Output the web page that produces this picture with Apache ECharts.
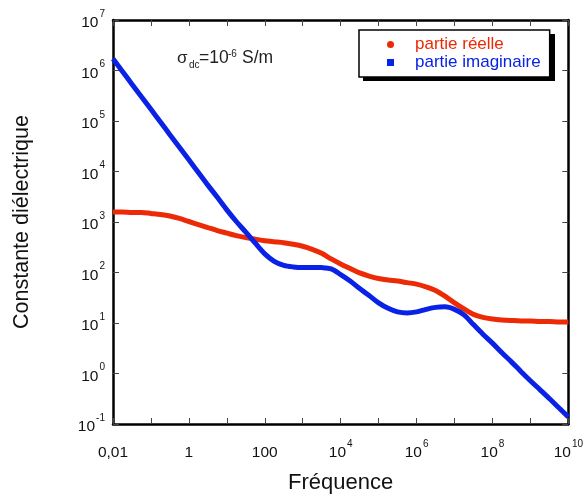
<!DOCTYPE html>
<html>
<head>
<meta charset="utf-8">
<script src="https://cdn.jsdelivr.net/npm/echarts@6/dist/echarts.min.js"></script>
<style>
html,body{margin:0;padding:0;background:#fff;}
#chart{width:586px;height:499px;}
</style>
</head>
<body>
<div id="chart"></div>
<script>
const frequence = [
  0.01, 0.0178, 0.0316, 0.0562,
  0.1, 0.178, 0.316, 0.562,
  1, 1.78, 3.16, 5.62,
  10, 17.8, 31.6, 56.2,
  100, 178, 316, 562,
  1e3, 1.78e3, 3.16e3, 5.62e3,
  1e4, 1.78e4, 3.16e4, 5.62e4,
  1e5, 1.78e5, 3.16e5, 5.62e5,
  1e6, 1.78e6, 3.16e6, 5.62e6,
  1e7, 1.78e7, 3.16e7, 5.62e7,
  1e8, 1.78e8, 3.16e8, 5.62e8,
  1e9, 1.78e9, 3.16e9, 5.62e9,
  1e10
];
const partieReelle = [
  1585, 1585, 1549, 1549,
  1479, 1413, 1318, 1175,
  1023, 891, 776, 676,
  603, 537, 490, 457,
  427, 407, 389, 363,
  331, 288, 240, 186,
  148, 120, 98, 85,
  76, 71, 68, 63,
  59, 52, 44, 34,
  25, 19, 14.8, 12.9,
  12.0, 11.5, 11.2, 11.0,
  11.0, 10.7, 10.7, 10.5,
  10.5
];
const partieImaginaire = [
  1.70e6, 9.55e5, 5.37e5, 3.02e5,
  1.70e5, 9.55e4, 5.37e4, 3.02e4,
  1.70e4, 9550, 5370, 3090,
  1740, 1023, 631, 380,
  234, 166, 138, 129,
  126, 126, 125, 118,
  91, 68, 48, 35,
  25, 19.5, 16.6, 15.8,
  16.6, 18.6, 20.4, 20.9,
  18.6, 14.5, 9.3, 6.0,
  4.0, 2.57, 1.70, 1.10,
  0.72, 0.48, 0.32, 0.21,
  0.138
];
const seriesNames = ['partie réelle', 'partie imaginaire'];
const seriesColors = ['#ec2a06', '#0a22e6'];

const FONT = 'Liberation Sans, Arial, sans-serif';
const chart = echarts.init(document.getElementById('chart'));

function expOf(v){ return Math.round(Math.log10(v)); }
function xLabel(v){
  const e = expOf(v);
  if (e % 2 !== 0) return '';
  if (e === -2) return '{b|0,01}';
  if (e === 0) return '{b|1}';
  if (e === 2) return '{b|100}';
  return '{b|10}{s|' + e + '}';
}
function yLabel(v){
  return '{b|10}{s|' + expOf(v) + '}';
}
const labelRich = {
  b: {fontSize: 15.5, fontFamily: FONT, color: '#111', lineHeight: 22, verticalAlign: 'bottom'},
  s: {fontSize: 10, fontFamily: FONT, color: '#111', lineHeight: 13, verticalAlign: 'top', padding: [0, 0, 0, 1]}
};
const tickStyle = {show: true, inside: true, length: 6, lineStyle: {color: '#444', width: 1}};
const lineStyleAxis = {show: true, lineStyle: {color: '#000', width: 2.5}};

const option = {
  backgroundColor: '#fff',
  animation: false,
  grid: {left: 113, right: 16, top: 20, bottom: 72},
  legend: {
    left: 359, top: 30, z: 10,
    orient: 'vertical',
    itemWidth: 7, itemHeight: 7,
    itemGap: 1,
    padding: [6, 9, 6, 28],
    backgroundColor: '#fff',
    borderColor: '#000', borderWidth: 1.5,
    textStyle: {fontSize: 17, fontFamily: FONT, padding: [0, 0, 0, 16]},
    data: [
      {name: seriesNames[0], icon: 'circle', textStyle: {color: seriesColors[0]}},
      {name: seriesNames[1], icon: 'rect', textStyle: {color: seriesColors[1]}}
    ]
  },
  xAxis: [{
    type: 'log', logBase: 10, min: 0.01, max: 1e10, interval: 1,
    position: 'bottom',
    name: 'Fréquence', nameLocation: 'middle', nameGap: 48,
    nameTextStyle: {fontSize: 22, fontFamily: FONT, color: '#111'},
    axisLine: lineStyleAxis, axisTick: tickStyle,
    axisLabel: {formatter: xLabel, rich: labelRich, margin: 15, showMinLabel: true, showMaxLabel: true, hideOverlap: false},
    splitLine: {show: false}, minorTick: {show: false}
  }, {
    type: 'log', logBase: 10, min: 0.01, max: 1e10, interval: 1,
    position: 'top',
    axisLine: lineStyleAxis, axisTick: tickStyle,
    axisLabel: {show: false}, splitLine: {show: false}
  }],
  yAxis: [{
    type: 'log', logBase: 10, min: 0.1, max: 1e7, interval: 1,
    position: 'left',
    name: 'Constante diélectrique', nameLocation: 'middle', nameGap: 80, nameRotate: 90,
    nameTextStyle: {fontSize: 21.5, fontFamily: FONT, color: '#111'},
    axisLine: lineStyleAxis, axisTick: tickStyle,
    axisLabel: {formatter: yLabel, rich: labelRich, margin: 8, showMinLabel: true, showMaxLabel: true},
    splitLine: {show: false}
  }, {
    type: 'log', logBase: 10, min: 0.1, max: 1e7, interval: 1,
    position: 'right',
    axisLine: lineStyleAxis, axisTick: tickStyle,
    axisLabel: {show: false}, splitLine: {show: false}
  }],
  graphic: [
    {type: 'rect', z: 5, shape: {x: 363, y: 34, width: 192, height: 47}, style: {fill: '#000'}},
    {type: 'text', x: 177, y: 58, style: {text: 'σ', font: '17px ' + FONT, fill: '#222', verticalAlign: 'middle'}},
    {type: 'text', x: 189, y: 65, style: {text: 'dc', font: '10px ' + FONT, fill: '#222', verticalAlign: 'middle'}},
    {type: 'text', x: 199, y: 58, style: {text: '=10', font: '17.5px ' + FONT, fill: '#222', verticalAlign: 'middle'}},
    {type: 'text', x: 228, y: 54, style: {text: '-6', font: '10px ' + FONT, fill: '#222', verticalAlign: 'middle'}},
    {type: 'text', x: 242, y: 58, style: {text: 'S/m', font: '17.5px ' + FONT, fill: '#222', verticalAlign: 'middle'}}
  ],
  series: [{
    name: seriesNames[0], type: 'line', showSymbol: false, smooth: 0.3,
    color: seriesColors[0],
    lineStyle: {width: 5, color: seriesColors[0]},
    data: frequence.map((f, i) => [f, partieReelle[i]]),
    z: 3
  }, {
    name: seriesNames[1], type: 'line', showSymbol: false, smooth: 0.3,
    color: seriesColors[1],
    lineStyle: {width: 5, color: seriesColors[1]},
    data: frequence.map((f, i) => [f, partieImaginaire[i]]),
    z: 4
  }]
};
chart.setOption(option);
</script>
</body>
</html>
